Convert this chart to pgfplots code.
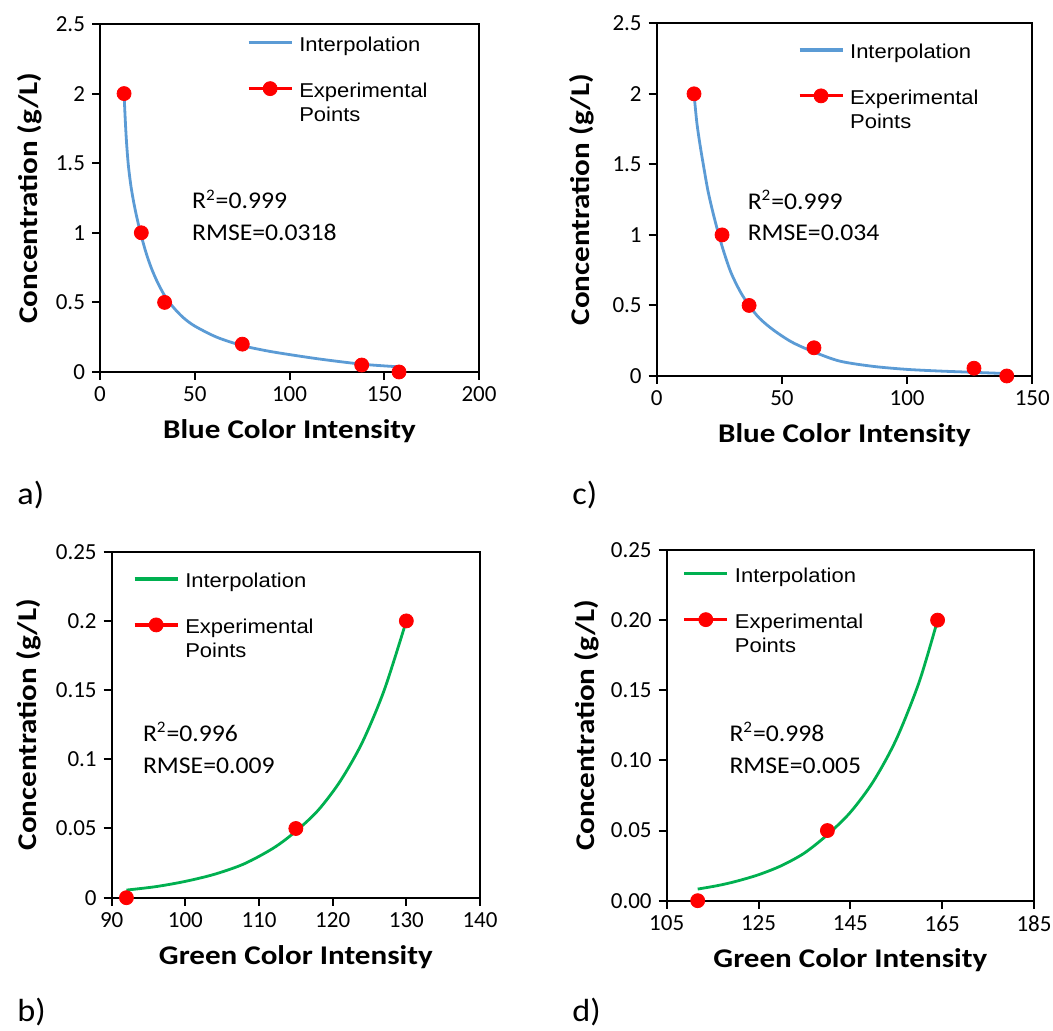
\documentclass[border=0pt]{standalone}
\usepackage{fontspec}
\setmainfont{Carlito}[FakeStretch=1.07]
\newfontfamily\tickfam{Carlito}
\newfontfamily\labfont{Carlito}[FakeStretch=1.15]
\newfontfamily\legfont{Liberation Sans}[FakeStretch=1.1]
\usepackage{pgfplots}
\pgfplotsset{compat=1.18}
\definecolor{cblue}{RGB}{91,155,213}
\definecolor{cgreen}{RGB}{0,176,80}
\definecolor{cred}{RGB}{255,0,0}
\newcommand\tickfont{\tickfam\fontsize{11.5}{13.5}\selectfont}
\newcommand\labelfont{\labfont\bfseries\fontsize{13.5}{16}\selectfont}
\newcommand\annfont{\fontsize{12}{14.5}\selectfont}
\newcommand\lfont{\legfont\fontsize{10}{12.2}\selectfont}
\newcommand\exppts{\begin{tabular}[t]{@{}l@{}}Experimental\\Points\end{tabular}}

\pgfplotsset{
  panel/.style={
    scale only axis, anchor=south west, clip=false,
    axis line style={line width=1pt, black},
    every tick/.style={line width=1pt, black},
    major tick length=4pt,
    tick align=outside,
    xtick pos=left, ytick pos=left,
    scaled ticks=false,
    tick label style={font=\tickfont},
    /pgf/number format/assume math mode=true,
    xlabel style={font=\labelfont, at={(axis description cs:0.5,0)}, anchor=base, yshift=-33.5pt},
    ylabel style={font=\labelfont, anchor=base},
    legend cell align=left,
    legend style={draw=none, fill=none, inner sep=0pt, outer sep=0pt, font=\lfont,
      row sep=12.9pt, column sep=3pt, anchor=north west,
      cells={anchor=base west}, nodes={inner sep=0pt}},
  },
  curveleg/.style={legend image code/.code={\draw[color=#1, line width=1.6pt] (0pt,4.3pt) -- (21.5pt,4.3pt);}},
  ptleg/.style={legend image code/.code={\draw[color=cred, line width=1.6pt] (0pt,4.3pt) -- (21.5pt,4.3pt); \fill[cred] (10.75pt,4.3pt) circle (3.5pt);}},
}

\begin{document}
\begin{tikzpicture}
\path[use as bounding box] (0,0) rectangle (526.5pt,515.5pt);

% ---------------- a) ----------------
\begin{axis}[panel, at={(50pt,329.5pt)}, width=189.5pt, height=174pt,
  xmin=0, xmax=200, ymin=0, ymax=2.5,
  xtick={0,50,100,150,200}, ytick={0,0.5,1,1.5,2,2.5},
  xlabel={Blue Color Intensity}, ylabel={Concentration (g/L)},
  ylabel style={at={(axis description cs:-0.166,0.5)}},
  legend style={at={(axis description cs:0.388,0.963)}}]
\addplot[cblue, line width=1.4pt, smooth, curveleg=cblue] table {
x y
12.7 2.00
13.3 1.82
14.0 1.65
15.0 1.48
16.5 1.32
18.5 1.17
21 1.02
24 0.87
27 0.75
30.5 0.64
34.5 0.54
39 0.46
44 0.39
50 0.33
61.6 0.25
75 0.19
88 0.152
100 0.125
114.3 0.096
128 0.072
140.7 0.053
158.6 0.036
};
\addlegendentry{Interpolation}
\addplot[only marks, mark=*, mark size=3.5pt, cred, ptleg] table {
x y
12.7 2.0
21.8 1.0
34.1 0.5
75.1 0.2
138.1 0.05
157.8 0.0
};
\addlegendentry{\exppts}
\node[anchor=base west, font=\annfont, inner sep=0pt] at (axis cs:48.4,1.171) {R\textsuperscript{2}=0.999};
\node[anchor=base west, font=\annfont, inner sep=0pt] at (axis cs:48.4,0.941) {RMSE=0.0318};
\end{axis}

% ---------------- c) ----------------
\begin{axis}[panel, at={(328.35pt,327.5pt)}, width=187.8pt, height=176.35pt,
  xmin=0, xmax=150, ymin=0, ymax=2.5,
  xtick={0,50,100,150}, ytick={0,0.5,1,1.5,2,2.5},
  xlabel={Blue Color Intensity}, ylabel={Concentration (g/L)},
  ylabel style={at={(axis description cs:-0.180,0.5)}},
  legend style={at={(axis description cs:0.376,0.941)}}]
\addplot[cblue, line width=1.4pt, smooth, curveleg=cblue] table {
x y
14.9 2.00
16 1.80
17.2 1.65
18.6 1.50
20.5 1.31
23 1.12
26.1 0.92
29.5 0.74
33.3 0.60
36.9 0.50
41 0.41
46.6 0.326
54 0.24
62.8 0.170
73.2 0.105
86.5 0.068
99.8 0.047
113 0.035
126.5 0.026
139.8 0.017
};
\addlegendentry{Interpolation}
\addplot[only marks, mark=*, mark size=3.5pt, cred, ptleg] table {
x y
14.9 2.0
26.1 1.0
36.9 0.5
62.8 0.2
126.7 0.055
139.8 0.0
};
\addlegendentry{\exppts}
\node[anchor=base west, font=\annfont, inner sep=0pt] at (axis cs:36.2,1.181) {R\textsuperscript{2}=0.999};
\node[anchor=base west, font=\annfont, inner sep=0pt] at (axis cs:36.2,0.959) {RMSE=0.034};
\end{axis}

% ---------------- b) ----------------
\begin{axis}[panel, at={(55.85pt,66.65pt)}, width=184.15pt, height=173pt,
  xmin=90, xmax=140, ymin=0, ymax=0.25,
  xtick={90,100,110,120,130,140}, ytick={0,0.05,0.1,0.15,0.2,0.25},
  yticklabels={0,0.05,0.1,0.15,0.2,0.25},
  xlabel={Green Color Intensity}, ylabel={Concentration (g/L)},
  ylabel style={at={(axis description cs:-0.2055,0.5)}},
  legend style={at={(axis description cs:0.058,0.938)}}]
\addplot[cgreen, line width=1.4pt, smooth, curveleg=cgreen] table {
x y
92 0.0055
96 0.0080
100 0.0118
104 0.0170
108 0.0245
112 0.036
115 0.048
118 0.063
121 0.084
124 0.112
127 0.150
130 0.200
};
\addlegendentry{Interpolation}
\addplot[only marks, mark=*, mark size=3.5pt, cred, ptleg] table {
x y
92 0.0
115 0.05
130 0.2
};
\addlegendentry{\exppts}
\node[anchor=base west, font=\annfont, inner sep=0pt] at (axis cs:94.2,0.1132) {R\textsuperscript{2}=0.996};
\node[anchor=base west, font=\annfont, inner sep=0pt] at (axis cs:94.2,0.0899) {RMSE=0.009};
\end{axis}

% ---------------- d) ----------------
\begin{axis}[panel, at={(333.35pt,65.15pt)}, width=183.65pt, height=175.35pt,
  xmin=105, xmax=185, ymin=0, ymax=0.25,
  xtick={105,125,145,165,185}, ytick={0,0.05,0.1,0.15,0.2,0.25},
  yticklabels={0.00,0.05,0.10,0.15,0.20,0.25},
  xlabel={Green Color Intensity}, ylabel={Concentration (g/L)},
  ylabel style={at={(axis description cs:-0.197,0.5)}},
  legend style={at={(axis description cs:0.0436,0.949)}}]
\addplot[cgreen, line width=1.4pt, smooth, curveleg=cgreen] table {
x y
111.75 0.0083
116 0.0107
120 0.0137
125 0.0185
130 0.025
135 0.034
140 0.047
145 0.063
150 0.085
155 0.115
160 0.156
164 0.200
};
\addlegendentry{Interpolation}
\addplot[only marks, mark=*, mark size=3.5pt, cred, ptleg] table {
x y
111.75 0.0
140 0.05
164 0.2
};
\addlegendentry{\exppts}
\node[anchor=base west, font=\annfont, inner sep=0pt] at (axis cs:118.6,0.1138) {R\textsuperscript{2}=0.998};
\node[anchor=base west, font=\annfont, inner sep=0pt] at (axis cs:118.6,0.0908) {RMSE=0.005};
\end{axis}

% panel letters
\node[anchor=base west, inner sep=0pt, font=\fontsize{16}{19}\selectfont] at (8.5pt,263pt) {a)};
\node[anchor=base west, inner sep=0pt, font=\fontsize{16}{19}\selectfont] at (286pt,263pt) {c)};
\node[anchor=base west, inner sep=0pt, font=\fontsize{16}{19}\selectfont] at (8.5pt,4.65pt) {b)};
\node[anchor=base west, inner sep=0pt, font=\fontsize{16}{19}\selectfont] at (286pt,4.65pt) {d)};
\end{tikzpicture}
\end{document}
